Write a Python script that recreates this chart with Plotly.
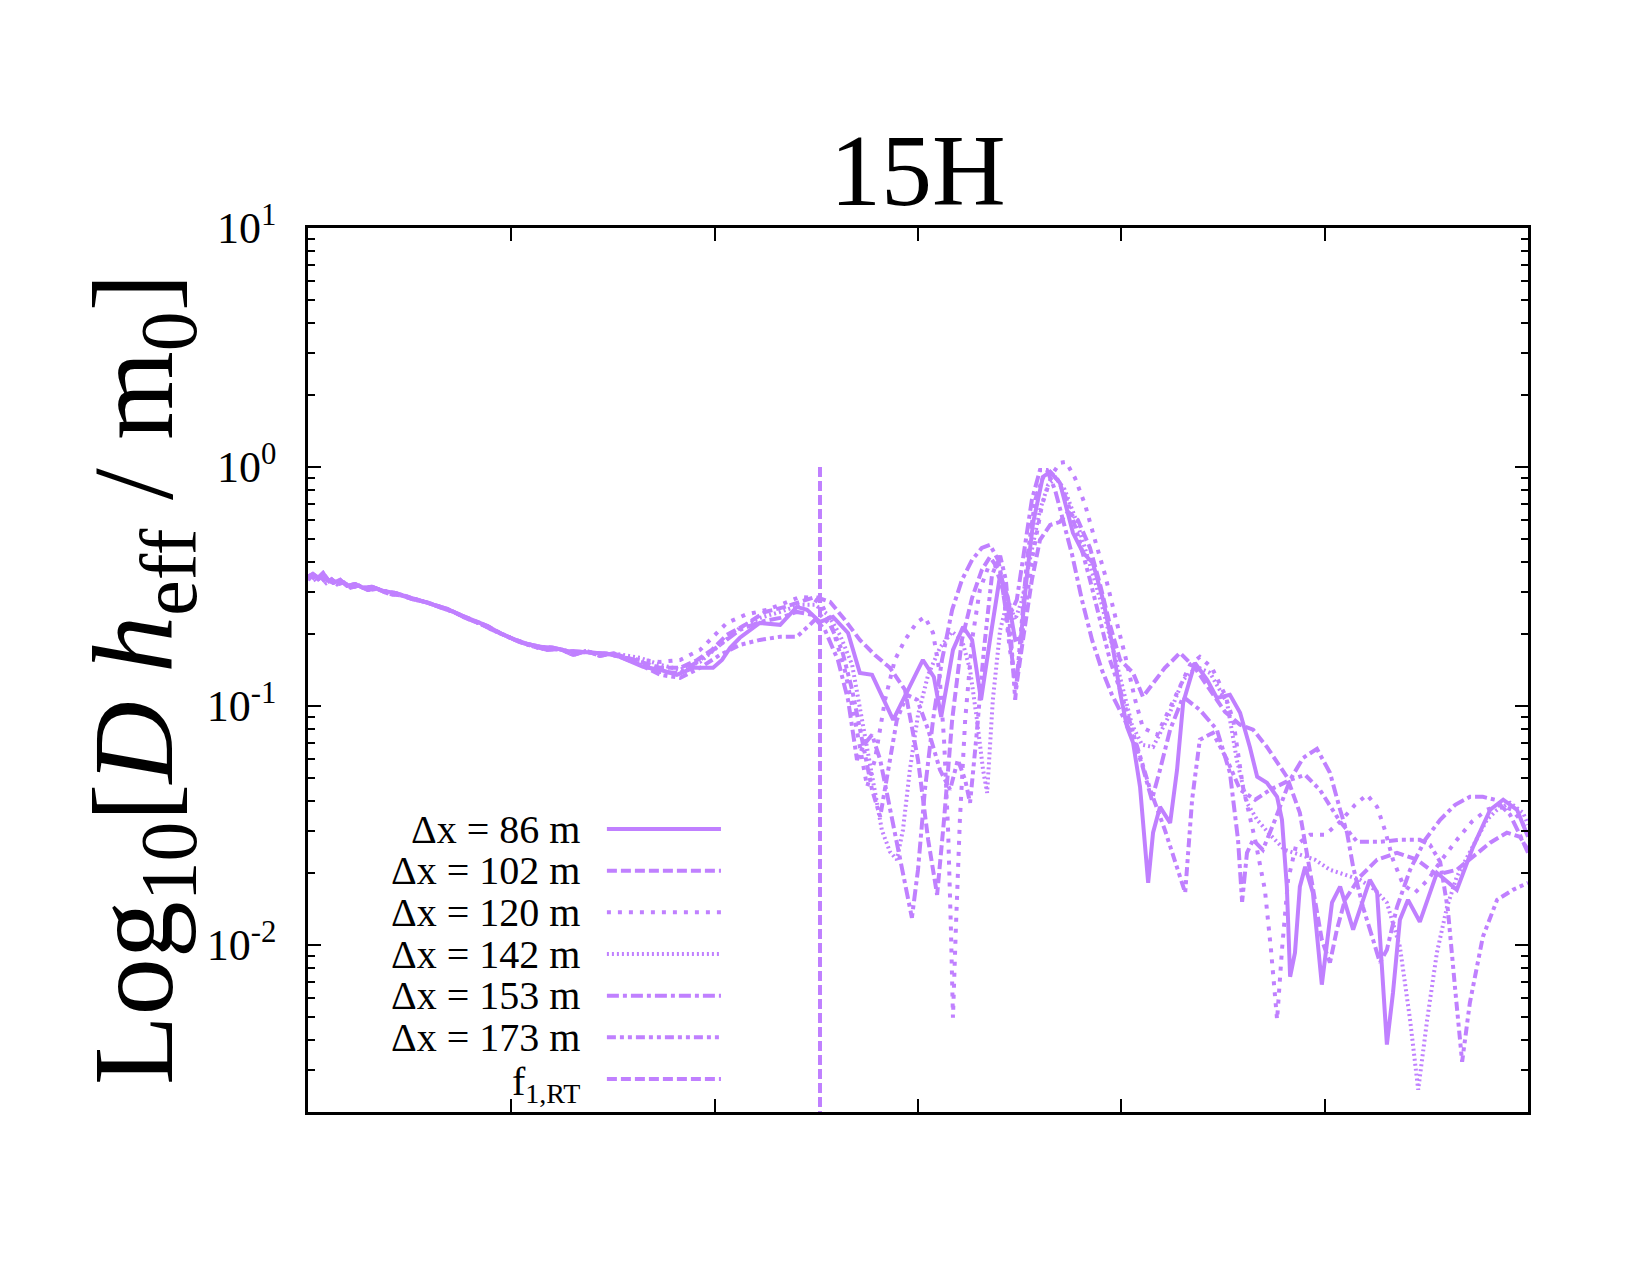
import math
import plotly.graph_objects as go

COLOR = "#c080ff"
FONT = "Liberation Serif"

# ---------------- data (x: frequency in Hz, y: log10[D h_eff / m0]) ----------------
common_a_hz = [0, 12, 25, 37, 49, 62, 79, 96, 116, 135,
               157, 185, 214, 246, 276, 308, 342, 374, 406, 440,
               472, 504, 539, 571, 603, 637, 669, 701, 736, 767]
common_a_log = [-0.460, -0.448, -0.464, -0.444, -0.473, -0.485, -0.473, -0.498, -0.490, -0.506,
                -0.502, -0.519, -0.527, -0.544, -0.556, -0.573, -0.594, -0.619, -0.640, -0.665,
                -0.695, -0.720, -0.741, -0.753, -0.757, -0.770, -0.774, -0.778, -0.782, -0.795]
common_b_hz = [0, 10, 20, 32, 45, 58, 72, 88, 105, 125,
               147, 170, 200, 230, 262, 292, 325, 358, 390, 423,
               456, 488, 521, 555, 587, 620, 652, 685, 718, 750]
common_b_log = [-0.472, -0.456, -0.478, -0.460, -0.486, -0.470, -0.492, -0.483, -0.505, -0.497,
                -0.515, -0.510, -0.532, -0.538, -0.556, -0.566, -0.588, -0.607, -0.634, -0.656,
                -0.684, -0.710, -0.733, -0.752, -0.765, -0.762, -0.787, -0.770, -0.791, -0.780]

# dx = 86 m (solid)
s86_hz = [824, 866, 907, 947, 996, 1018, 1038, 1062, 1111, 1161,
          1202, 1227, 1259, 1291, 1328, 1357, 1387, 1439, 1480, 1512,
          1539, 1557, 1586, 1611, 1633, 1655, 1677, 1702, 1721, 1739,
          1753, 1768, 1783, 1807, 1825, 1849, 1881, 1906, 1930, 1955,
          1979, 1997, 2014, 2029, 2046, 2066, 2078, 2095, 2120, 2137,
          2152, 2181, 2211, 2235, 2267, 2292, 2316, 2334, 2358, 2383,
          2395, 2407, 2415, 2427, 2439, 2452, 2471, 2493, 2518, 2538,
          2570, 2611, 2629, 2653, 2668, 2685, 2705, 2734, 2776, 2825,
          2865, 2907, 2939, 2973, 3000]
s86_log = [-0.837, -0.849, -0.870, -0.841, -0.841, -0.808, -0.757, -0.715, -0.653, -0.661,
           -0.586, -0.598, -0.649, -0.628, -0.695, -0.862, -0.870, -1.059, -0.921, -0.808,
           -0.879, -1.046, -0.766, -0.669, -0.724, -0.975, -0.724, -0.452, -0.548, -0.724,
           -0.715, -0.452, -0.234, -0.042, -0.021, -0.067, -0.276, -0.360, -0.402, -0.556,
           -0.753, -0.946, -1.088, -1.155, -1.339, -1.741, -1.531, -1.423, -1.490, -1.268,
           -0.987, -0.820, -0.891, -0.967, -0.954, -1.029, -1.172, -1.297, -1.322, -1.381,
           -1.477, -1.757, -2.134, -2.033, -1.757, -1.674, -1.782, -2.167, -1.824, -1.757,
           -1.937, -1.728, -1.782, -2.418, -2.201, -1.895, -1.812, -1.904, -1.699, -1.770,
           -1.590, -1.435, -1.393, -1.435, -1.548]

# dx = 102 m (dashed)
s102_hz = [816, 866, 915, 957, 993, 1030, 1075, 1124, 1173, 1210,
           1247, 1284, 1320, 1357, 1394, 1431, 1468, 1500, 1525, 1547,
           1564, 1584, 1608, 1633, 1657, 1677, 1702, 1721, 1741, 1758,
           1780, 1800, 1825, 1849, 1869, 1893, 1923, 1948, 1972, 1997,
           2029, 2053, 2078, 2107, 2127, 2144, 2181, 2218, 2255, 2292,
           2324, 2358, 2407, 2439, 2471, 2493, 2513, 2530, 2550, 2587,
           2629, 2678, 2727, 2776, 2825, 2865, 2907, 2948, 2980, 3000]
s102_log = [-0.816, -0.841, -0.841, -0.808, -0.766, -0.703, -0.661, -0.607, -0.586, -0.565,
            -0.544, -0.565, -0.640, -0.724, -0.787, -0.841, -0.933, -1.226, -1.561, -1.791,
            -1.477, -1.059, -0.724, -0.548, -0.431, -0.377, -0.439, -0.661, -0.929, -0.724,
            -0.473, -0.305, -0.243, -0.230, -0.188, -0.222, -0.339, -0.494, -0.661, -0.808,
            -0.862, -0.962, -0.904, -0.841, -0.808, -0.778, -0.841, -0.933, -1.025, -1.079,
            -1.100, -1.172, -1.297, -1.448, -1.757, -1.979, -2.075, -1.937, -1.812, -1.715,
            -1.644, -1.615, -1.644, -1.707, -1.686, -1.632, -1.573, -1.531, -1.548, -1.603]

# dx = 120 m (dotted)
s120_hz = [816, 866, 915, 964, 1030, 1075, 1129, 1173, 1210, 1239,
           1264, 1291, 1320, 1345, 1375, 1394, 1419, 1443, 1468, 1498,
           1517, 1537, 1552, 1564, 1574, 1581, 1586, 1593, 1603, 1616,
           1633, 1652, 1672, 1689, 1709, 1726, 1741, 1758, 1780, 1805,
           1829, 1849, 1864, 1886, 1911, 1935, 1960, 1984, 2009, 2034,
           2053, 2088, 2112, 2137, 2169, 2193, 2223, 2255, 2275, 2299,
           2329, 2353, 2368, 2383, 2395, 2410, 2430, 2464, 2501, 2538,
           2575, 2604, 2629, 2648, 2668, 2693, 2722, 2754, 2788, 2825,
           2862, 2899, 2931, 2961, 2985, 3000]
s120_log = [-0.808, -0.816, -0.808, -0.766, -0.653, -0.619, -0.598, -0.569, -0.544, -0.548,
            -0.577, -0.682, -0.849, -1.059, -1.339, -1.226, -0.975, -0.808, -0.724, -0.649,
            -0.628, -0.695, -0.849, -1.142, -1.519, -1.937, -2.305, -1.937, -1.477, -1.059,
            -0.724, -0.515, -0.423, -0.410, -0.515, -0.766, -0.912, -0.682, -0.389, -0.159,
            -0.033, 0.017, 0.021, -0.046, -0.159, -0.305, -0.452, -0.619, -0.787, -0.975,
            -1.092, -1.121, -1.038, -0.946, -0.828, -0.795, -0.841, -0.954, -1.059, -1.339,
            -1.561, -1.770, -2.021, -2.314, -2.021, -1.728, -1.582, -1.540, -1.540, -1.485,
            -1.414, -1.372, -1.423, -1.519, -1.644, -1.749, -1.782, -1.728, -1.644, -1.561,
            -1.485, -1.435, -1.414, -1.435, -1.485, -1.540]

# dx = 142 m (fine dotted)
s142_hz = [816, 866, 915, 964, 1013, 1062, 1111, 1161, 1210, 1247,
           1279, 1308, 1338, 1362, 1387, 1411, 1431, 1448, 1463, 1480,
           1500, 1525, 1554, 1584, 1608, 1628, 1645, 1660, 1670, 1684,
           1702, 1721, 1739, 1756, 1775, 1800, 1820, 1839, 1861, 1893,
           1923, 1952, 1977, 2002, 2026, 2051, 2078, 2112, 2152, 2186,
           2218, 2260, 2284, 2309, 2334, 2366, 2402, 2439, 2476, 2513,
           2550, 2587, 2624, 2653, 2685, 2710, 2730, 2752, 2776, 2801,
           2825, 2865, 2899, 2924, 2956, 2988, 3000]
s142_log = [-0.799, -0.828, -0.849, -0.816, -0.745, -0.674, -0.632, -0.607, -0.577, -0.577,
            -0.619, -0.703, -0.828, -1.059, -1.310, -1.519, -1.611, -1.644, -1.519, -1.268,
            -1.038, -0.870, -0.757, -0.690, -0.724, -0.849, -1.059, -1.268, -1.364, -0.975,
            -0.682, -0.556, -0.640, -0.556, -0.389, -0.180, -0.075, -0.046, -0.096, -0.243,
            -0.410, -0.577, -0.745, -0.912, -1.079, -1.163, -1.172, -1.059, -0.891, -0.837,
            -0.862, -0.987, -1.226, -1.406, -1.477, -1.540, -1.603, -1.623, -1.644, -1.686,
            -1.707, -1.728, -1.770, -1.824, -2.008, -2.314, -2.607, -2.314, -2.033, -1.841,
            -1.715, -1.590, -1.477, -1.435, -1.406, -1.448, -1.498]

# dx = 153 m (dash-dot)
s153_hz = [816, 866, 915, 964, 1013, 1062, 1111, 1161, 1202, 1239,
           1271, 1303, 1328, 1350, 1367, 1387, 1407, 1431, 1456, 1473,
           1485, 1500, 1517, 1537, 1559, 1584, 1608, 1633, 1657, 1677,
           1697, 1714, 1726, 1743, 1763, 1780, 1800, 1817, 1837, 1857,
           1879, 1903, 1928, 1952, 1977, 2002, 2026, 2051, 2075, 2095,
           2120, 2152, 2193, 2235, 2267, 2287, 2297, 2309, 2324, 2348,
           2378, 2415, 2447, 2481, 2513, 2538, 2555, 2570, 2594, 2619,
           2636, 2653, 2678, 2710, 2747, 2784, 2821, 2857, 2889, 2919,
           2956, 2980, 3000]
s153_log = [-0.828, -0.858, -0.862, -0.808, -0.745, -0.682, -0.649, -0.632, -0.607, -0.619,
            -0.682, -0.808, -0.975, -1.226, -1.163, -1.121, -1.226, -1.435, -1.644, -1.791,
            -1.887, -1.686, -1.351, -1.059, -0.808, -0.598, -0.473, -0.389, -0.339, -0.326,
            -0.389, -0.536, -0.619, -0.556, -0.326, -0.138, -0.013, -0.013, -0.096, -0.222,
            -0.368, -0.556, -0.724, -0.849, -0.954, -1.038, -1.121, -1.247, -1.393, -1.268,
            -1.100, -0.962, -1.017, -1.100, -1.280, -1.561, -1.820, -1.615, -1.561, -1.603,
            -1.477, -1.310, -1.218, -1.180, -1.280, -1.435, -1.531, -1.674, -1.841, -1.979,
            -2.075, -2.021, -1.841, -1.686, -1.561, -1.477, -1.414, -1.381, -1.381, -1.393,
            -1.456, -1.540, -1.615]

# dx = 173 m (dash-dot-dot)
s173_hz = [816, 866, 915, 964, 1013, 1062, 1111, 1161, 1202, 1234,
           1259, 1284, 1313, 1338, 1362, 1387, 1407, 1426, 1448, 1473,
           1498, 1525, 1554, 1579, 1598, 1616, 1628, 1643, 1662, 1682,
           1702, 1716, 1729, 1739, 1751, 1768, 1788, 1807, 1825, 1844,
           1866, 1893, 1923, 1948, 1972, 1997, 2034, 2071, 2107, 2139,
           2157, 2174, 2193, 2225, 2260, 2292, 2329, 2366, 2415, 2452,
           2488, 2538, 2580, 2636, 2685, 2734, 2759, 2784, 2803, 2821,
           2838, 2857, 2889, 2924, 2963, 3000]
s173_log = [-0.828, -0.870, -0.883, -0.841, -0.787, -0.745, -0.724, -0.711, -0.711, -0.661,
            -0.619, -0.661, -0.766, -0.933, -1.142, -1.351, -1.464, -1.268, -1.059, -0.954,
            -0.975, -1.100, -1.268, -1.351, -1.226, -1.310, -1.406, -1.142, -0.766, -0.452,
            -0.372, -0.473, -0.724, -0.975, -0.724, -0.389, -0.138, -0.046, -0.021, -0.054,
            -0.138, -0.285, -0.473, -0.640, -0.808, -0.933, -1.142, -1.351, -1.519, -1.686,
            -1.782, -1.393, -1.142, -1.113, -1.226, -1.351, -1.393, -1.351, -1.310, -1.289,
            -1.351, -1.485, -1.569, -1.569, -1.561, -1.561, -1.582, -1.653, -1.854, -2.188,
            -2.490, -2.243, -1.967, -1.812, -1.770, -1.741]

# f_1,RT marker
f1rt_hz = 1259
f1rt_log = [0.0, -2.7]

legend_labels = ["\u0394x = 86 m", "\u0394x = 102 m", "\u0394x = 120 m", "\u0394x = 142 m",
                 "\u0394x = 153 m", "\u0394x = 173 m", "f<sub>1,RT</sub>"]
y_tickvals = [-2, -1, 0, 1]
y_ticktext = ["10<sup>-2</sup>", "10<sup>-1</sup>", "10<sup>0</sup>", "10<sup>1</sup>"]
x_tickvals = [0, 500, 1000, 1500, 2000, 2500, 3000]

# ---------------- styles ----------------
DASHES = ["solid", "10px,4px", "4px,7px", "2px,3px", "12px,4px,4px,4px",
          "9px,4px,4px,4px,4px,4px", "10px,4px"]
LW = 4

series = [
    (common_a_hz, common_a_log, s86_hz, s86_log),
    (common_b_hz, common_b_log, s102_hz, s102_log),
    (common_a_hz, common_a_log, s120_hz, s120_log),
    (common_b_hz, common_b_log, s142_hz, s142_log),
    (common_a_hz, common_a_log, s153_hz, s153_log),
    (common_b_hz, common_b_log, s173_hz, s173_log),
]

fig = go.Figure()
for i, (ch, cl, th, tl) in enumerate(series):
    n = min(len(th), len(tl))
    x = list(ch) + list(th[:n])
    y = list(cl) + list(tl[:n])
    fig.add_trace(go.Scatter(x=x, y=y, mode="lines", showlegend=False, hoverinfo="skip",
                             name=legend_labels[i],
                             line=dict(color=COLOR, width=LW, dash=DASHES[i])))

fig.add_trace(go.Scatter(x=[f1rt_hz, f1rt_hz], y=f1rt_log, mode="lines", showlegend=False,
                         hoverinfo="skip", line=dict(color=COLOR, width=LW, dash=DASHES[6])))

minor_vals = []
for n in (-3, -2, -1, 0):
    for k in range(2, 10):
        v = n + math.log10(k)
        if -2.7 < v < 1:
            minor_vals.append(v)

axis_common = dict(showline=True, linecolor="black", linewidth=2.5, mirror="ticks",
                   ticks="inside", ticklen=13, tickwidth=2, tickcolor="black",
                   showgrid=False, zeroline=False)

fig.update_xaxes(range=[0, 3000], tickmode="array", tickvals=x_tickvals,
                 showticklabels=False, **axis_common)
fig.update_yaxes(range=[-2.7, 1], tickmode="array", tickvals=y_tickvals, ticktext=y_ticktext,
                 tickfont=dict(family=FONT, size=44, color="black"), ticklabelstandoff=20,
                 minor=dict(tickmode="array", tickvals=minor_vals, ticks="inside", ticklen=7,
                            tickwidth=2, tickcolor="black", showgrid=False),
                 **axis_common)

# legend (text right-aligned, line sample on the right, like the original)
shapes = []
annotations = []
row_top = 0.3201
row_step = 0.04713
for i, lab in enumerate(legend_labels):
    yy = row_top - i * row_step
    shapes.append(dict(type="line", xref="paper", yref="paper", x0=0.245, x1=0.3385,
                       y0=yy, y1=yy, line=dict(color=COLOR, width=LW, dash=DASHES[i])))
    ty = yy - 0.006 if i == 6 else yy
    annotations.append(dict(xref="paper", yref="paper", x=0.2246, y=ty, xanchor="right",
                            yanchor="middle", text=lab, showarrow=False,
                            font=dict(family=FONT, size=40, color="black")))

annotations.append(dict(xref="paper", yref="paper", x=-0.136, y=0.49, xanchor="center",
                        yanchor="middle", textangle=-90, showarrow=False,
                        text="Log<sub>10</sub>[<i>D</i> <i>h</i><sub>eff</sub> / m<sub>0</sub>]",
                        font=dict(family=FONT, size=114, color="black")))
annotations.append(dict(xref="paper", yref="paper", x=0.5, y=1.0645, xanchor="center",
                        yanchor="middle", text="15H", showarrow=False,
                        font=dict(family=FONT, size=102, color="black")))

fig.update_layout(width=1650, height=1275, autosize=False,
                  margin=dict(l=308, r=122, t=228, b=163, autoexpand=False),
                  paper_bgcolor="white", plot_bgcolor="white",
                  font=dict(family=FONT, color="black"),
                  shapes=shapes, annotations=annotations, showlegend=False)

fig.write_html("out.html")
